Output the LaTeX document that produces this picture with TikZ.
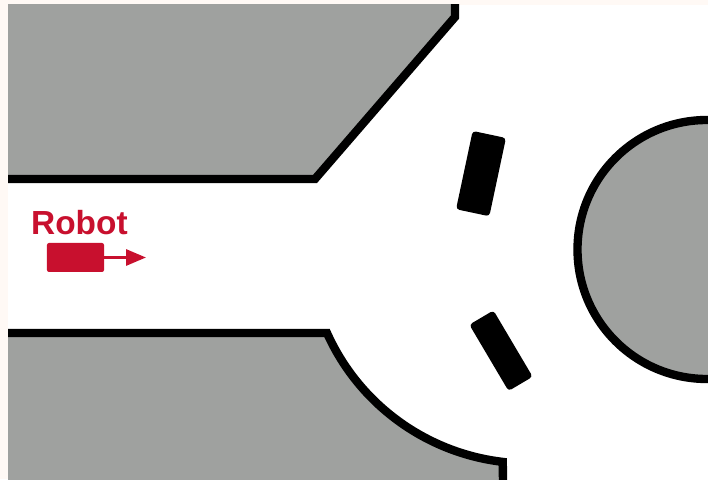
\documentclass[tikz,border=0pt]{standalone}
\usepackage{fontspec}
\setmainfont{Liberation Sans}
\usetikzlibrary{arrows.meta}
\definecolor{wallgray}{HTML}{9FA19F}
\definecolor{robotred}{HTML}{C8102E}
\definecolor{paper}{HTML}{FFF9F5}
\tikzset{
  wall/.style={fill=wallgray, draw=black, line width=0.25cm},
  obst/.style={rectangle, fill=black, rounded corners=0.1cm, inner sep=0pt},
  bot/.style={rectangle, fill=robotred, rounded corners=0.06cm, minimum width=1.71cm, minimum height=0.87cm, inner sep=0pt},
  botlabel/.style={text=robotred, font=\fontsize{28.5}{30}\selectfont\bfseries, inner sep=0pt},
  arr/.style={-{Triangle[length=0.6cm, width=0.48cm]}, draw=robotred, line width=0.09cm},
}
\begin{document}
\begin{tikzpicture}[x=0.03cm, y=0.03cm]
\useasboundingbox (0,0) rectangle (708,479);
\fill[paper] (0,0) rectangle (708,479);
\fill[white] (8,0) rectangle (708,474);

\begin{scope}
\clip (8,0) rectangle (708,474);
% upper wall
\draw[wall] (-10,490) -- (455,490) -- (455,462) -- (315,300) -- (-10,300) -- cycle;
% lower wall
\draw[wall] (-10,146) -- (327,146) arc[start angle=204.2, end angle=263.3, radius=221]
  -- (503,-10) -- (-10,-10) -- cycle;
% station
\draw[wall] (707,229.5) circle[radius=129.5];
\end{scope}

% obstacles
\node[obst, minimum width=2.4cm, minimum height=1.02cm, rotate=78] (gate1) at (481,305.4) {};
\node[obst, minimum width=2.31cm, minimum height=0.84cm, rotate=120.6] (gate2) at (501,128.3) {};

% robot
\node[bot] (robot) at (75.5,221.5) {};
\node[botlabel, anchor=base west] (name) at (31,244) {Robot};
\coordinate (goal) at (146,221.5);
\draw[arr] (robot.east) -- (goal);

\end{tikzpicture}
\end{document}
